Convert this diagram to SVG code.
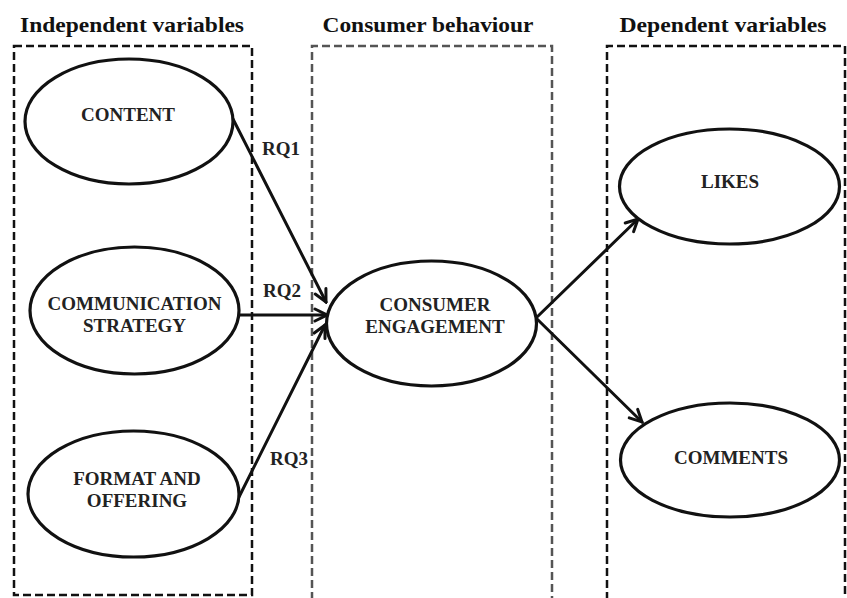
<svg xmlns="http://www.w3.org/2000/svg" width="847" height="598" viewBox="0 0 847 598">
<style>
.hd{font-family:"Liberation Serif","Times New Roman",serif;font-weight:bold;font-size:21px;fill:#111;text-anchor:middle}
.lb{font-family:"Liberation Serif","Times New Roman",serif;font-weight:bold;font-size:19px;fill:#222;text-anchor:middle}
.rq{font-family:"Liberation Serif","Times New Roman",serif;font-weight:bold;font-size:19px;fill:#222}
.box{fill:none;stroke:#111;stroke-width:2.5;stroke-dasharray:8 4}
.box.gray{stroke:#555}
.node ellipse{fill:#fff;stroke:#111;stroke-width:3.2}
.conn line{stroke:#111;stroke-width:3;stroke-linecap:round}
</style>
<defs>
<marker id="arr" viewBox="0 0 16 16" refX="14" refY="8" markerWidth="16" markerHeight="16" markerUnits="userSpaceOnUse" orient="auto">
<path d="M2,2 L14,8 L2,14" fill="none" stroke="#111" stroke-width="3" stroke-linecap="round" stroke-linejoin="miter"/>
</marker>
</defs>
<rect width="847" height="598" fill="#fff"/>
<g id="headings">
<text class="hd" x="132" y="32" textLength="224" lengthAdjust="spacingAndGlyphs">Independent variables</text>
<text class="hd" x="428" y="32" textLength="211" lengthAdjust="spacingAndGlyphs">Consumer behaviour</text>
<text class="hd" x="723" y="32" textLength="207" lengthAdjust="spacingAndGlyphs">Dependent variables</text>
</g>
<g id="frames">
<rect class="box" x="14" y="46" width="238" height="549"/>
<path class="box gray" d="M312,600 V46 H552 V600"/>
<path class="box" d="M607,600 V46 H845 V600"/>
</g>
<g class="conn" id="connectors">
<line x1="233" y1="119" x2="326" y2="302" marker-end="url(#arr)"/>
<line x1="239" y1="315" x2="327" y2="315" marker-end="url(#arr)"/>
<line x1="239" y1="497" x2="325" y2="325" marker-end="url(#arr)"/>
<line x1="536" y1="318" x2="638" y2="219" marker-end="url(#arr)"/>
<line x1="536" y1="318" x2="642" y2="422" marker-end="url(#arr)"/>
<text class="rq" x="262" y="155">RQ1</text>
<text class="rq" x="263" y="297">RQ2</text>
<text class="rq" x="270" y="465">RQ3</text>
</g>
<g class="node" id="content">
<ellipse cx="129" cy="121.5" rx="104" ry="62.5"/>
<text class="lb" x="128" y="121">CONTENT</text>
</g>
<g class="node" id="communication">
<ellipse cx="134.5" cy="310.5" rx="104.5" ry="63.5"/>
<text class="lb" x="134.5" y="310">COMMUNICATION</text>
<text class="lb" x="134.5" y="332">STRATEGY</text>
</g>
<g class="node" id="format">
<ellipse cx="133.5" cy="494" rx="105.5" ry="63"/>
<text class="lb" x="137" y="485">FORMAT AND</text>
<text class="lb" x="137" y="507">OFFERING</text>
</g>
<g class="node" id="engagement">
<ellipse cx="431.5" cy="323.5" rx="105" ry="62.5"/>
<text class="lb" x="435" y="311">CONSUMER</text>
<text class="lb" x="435" y="333">ENGAGEMENT</text>
</g>
<g class="node" id="likes">
<ellipse cx="729.5" cy="186.5" rx="110" ry="57.5"/>
<text class="lb" x="730" y="188">LIKES</text>
</g>
<g class="node" id="comments">
<ellipse cx="730" cy="460" rx="109.5" ry="57"/>
<text class="lb" x="731" y="464">COMMENTS</text>
</g>
</svg>
